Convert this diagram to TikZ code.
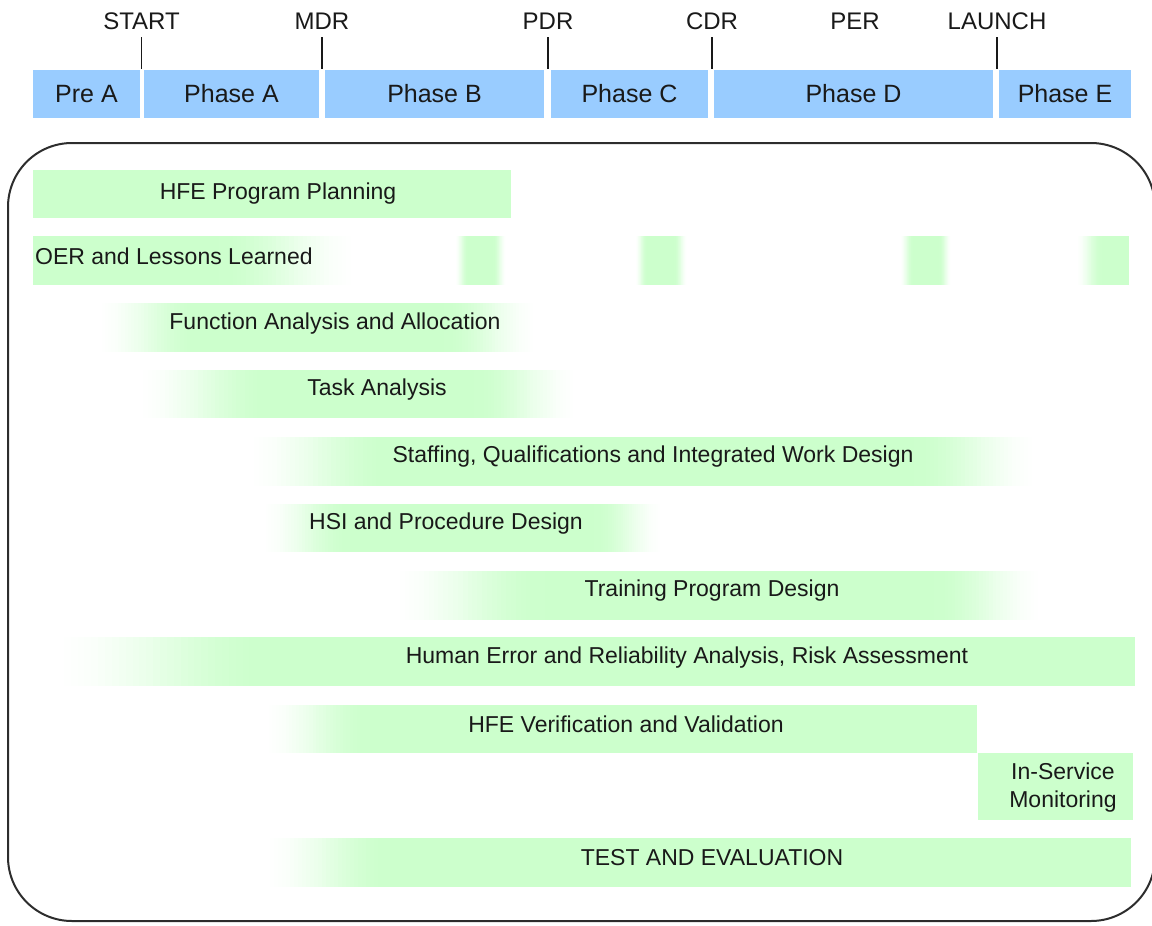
\documentclass[tikz,border=0pt]{standalone}
\usepackage{fontspec}
\setmainfont{Liberation Sans}
\definecolor{hfe}{RGB}{204,255,204}
\definecolor{phaseblue}{RGB}{153,204,255}
\definecolor{ink}{RGB}{25,25,25}
\definecolor{frame}{RGB}{45,45,45}
% fade in: white -> green from #3 to #4, rows #1..#2
\newcommand\fadein[4]{%
  \foreach \k in {0,...,31}{%
    \pgfmathsetmacro\xl{#3+(#4-#3)*\k/32}%
    \pgfmathsetmacro\xr{#3+(#4-#3)*(\k+1)/32+0.6}%
    \pgfmathsetmacro\tt{(\k+0.5)/32}%
    \pgfmathtruncatemacro\pc{100*(3*\tt*\tt-2*\tt*\tt*\tt)}%
    \fill[hfe!\pc!white] (\xl,#1) rectangle (\xr,#2);
  }}
\newcommand\fadeout[4]{%
  \foreach \k in {0,...,31}{%
    \pgfmathsetmacro\xl{#3+(#4-#3)*\k/32-0.6}%
    \pgfmathsetmacro\xr{#3+(#4-#3)*(\k+1)/32}%
    \pgfmathsetmacro\tt{1-(\k+0.5)/32}%
    \pgfmathtruncatemacro\pc{100*(3*\tt*\tt-2*\tt*\tt*\tt)}%
    \fill[hfe!\pc!white] (\xl,#1) rectangle (\xr,#2);
  }}
\newcommand\fbar[6]{%
  \fadein{#1}{#2}{#3}{#4}%
  \fill[hfe] (#4,#1) rectangle (#5,#2);
  \fadeout{#1}{#2}{#5}{#6}}
\newcommand\ibar[5]{%
  \fadein{#1}{#2}{#3}{#4}%
  \fill[hfe] (#4,#1) rectangle (#5,#2);}
\begin{document}
\begin{tikzpicture}[x=1pt,y=-1pt,
  phase/.style={fill=phaseblue,inner sep=0pt,minimum height=48pt,text=ink,font=\fontsize{25}{30}\selectfont},
  mile/.style={anchor=base,inner sep=3pt,text=ink,font=\fontsize{24}{28}\selectfont},
  tick/.style={draw=ink,line width=1.3pt,shorten <=4pt,shorten >=1pt},
  act/.style={inner sep=0pt,text=ink,font=\fontsize{23}{28}\selectfont}]
\useasboundingbox (0,0) rectangle (1152,926);
% phases
\node[phase,minimum width=107pt] (preA) at (86.5,94) {\raisebox{-2pt}{Pre A}};
\node[phase,minimum width=175pt] (phA) at (231.5,94) {\raisebox{-2pt}{Phase A}};
\node[phase,minimum width=219pt] (phB) at (434.5,94) {\raisebox{-2pt}{Phase B}};
\node[phase,minimum width=157pt] (phC) at (629.5,94) {\raisebox{-2pt}{Phase C}};
\node[phase,minimum width=279pt] (phD) at (853.5,94) {\raisebox{-2pt}{Phase D}};
\node[phase,minimum width=132pt] (phE) at (1065,94) {\raisebox{-2pt}{Phase E}};
% milestones
\node[mile] (start) at (141.5,30) {START};
\node[mile] (mdr) at (322,30) {MDR};
\node[mile] (pdr) at (548,30) {PDR};
\node[mile] (cdr) at (712,30) {CDR};
\node[mile] (per) at (855,30) {PER};
\node[mile] (launch) at (997,30) {LAUNCH};
\draw[tick] (start.south) -- (start.south |- phA.north);
\draw[tick] (mdr.south) -- (mdr.south |- phB.north);
\draw[tick] (pdr.south) -- (pdr.south |- phC.north);
\draw[tick] (cdr.south) -- (cdr.south |- phD.north);
\draw[tick] (launch.south) -- (launch.south |- phE.north);
% frame
\draw[frame,line width=2pt,rounded corners=64pt] (8,143) rectangle (1155,921);
% bars
\fill[hfe] (33,170) rectangle (511,218);
\fbar{236}{285}{33}{33}{220}{360}
\fbar{236}{285}{455}{468}{494}{507}
\fbar{236}{285}{635}{647}{675}{688}
\fbar{236}{285}{900}{913}{940}{952}
\ibar{236}{285}{1076}{1102}{1129}
\fbar{303}{352}{95}{200}{445}{540}
\fbar{370}{418}{135}{270}{475}{580}
\fbar{437}{486}{245}{390}{915}{1040}
\fbar{504}{552}{260}{350}{595}{665}
\fbar{571}{620}{390}{545}{935}{1045}
\ibar{637}{686}{50}{270}{1135}
\ibar{705}{753}{262}{370}{977}
\fill[hfe] (978,753) rectangle (1133,820);
\ibar{838}{887}{262}{390}{1131}
% labels
\node[act] (plan) at (278,194) {HFE Program Planning};
\node[act,anchor=west] (oer) at (35,256) {OER and Lessons Learned};
\node[act] (faa) at (335,324) {Function Analysis and Allocation};
\node[act] (task) at (377,390) {Task Analysis};
\node[act] (staff) at (653,457) {Staffing, Qualifications and Integrated Work Design};
\node[act] (hsi) at (446,524) {HSI and Procedure Design};
\node[act] (train) at (712,591) {Training Program Design};
\node[act] (herr) at (687,658) {Human Error and Reliability Analysis, Risk Assessment};
\node[act] (vv) at (626,724) {HFE Verification and Validation};
\node[act,align=center] (ism) at (1063,788) {In-Service\\Monitoring};
\node[act] (te) at (712,858) {TEST AND EVALUATION};
\end{tikzpicture}
\end{document}
